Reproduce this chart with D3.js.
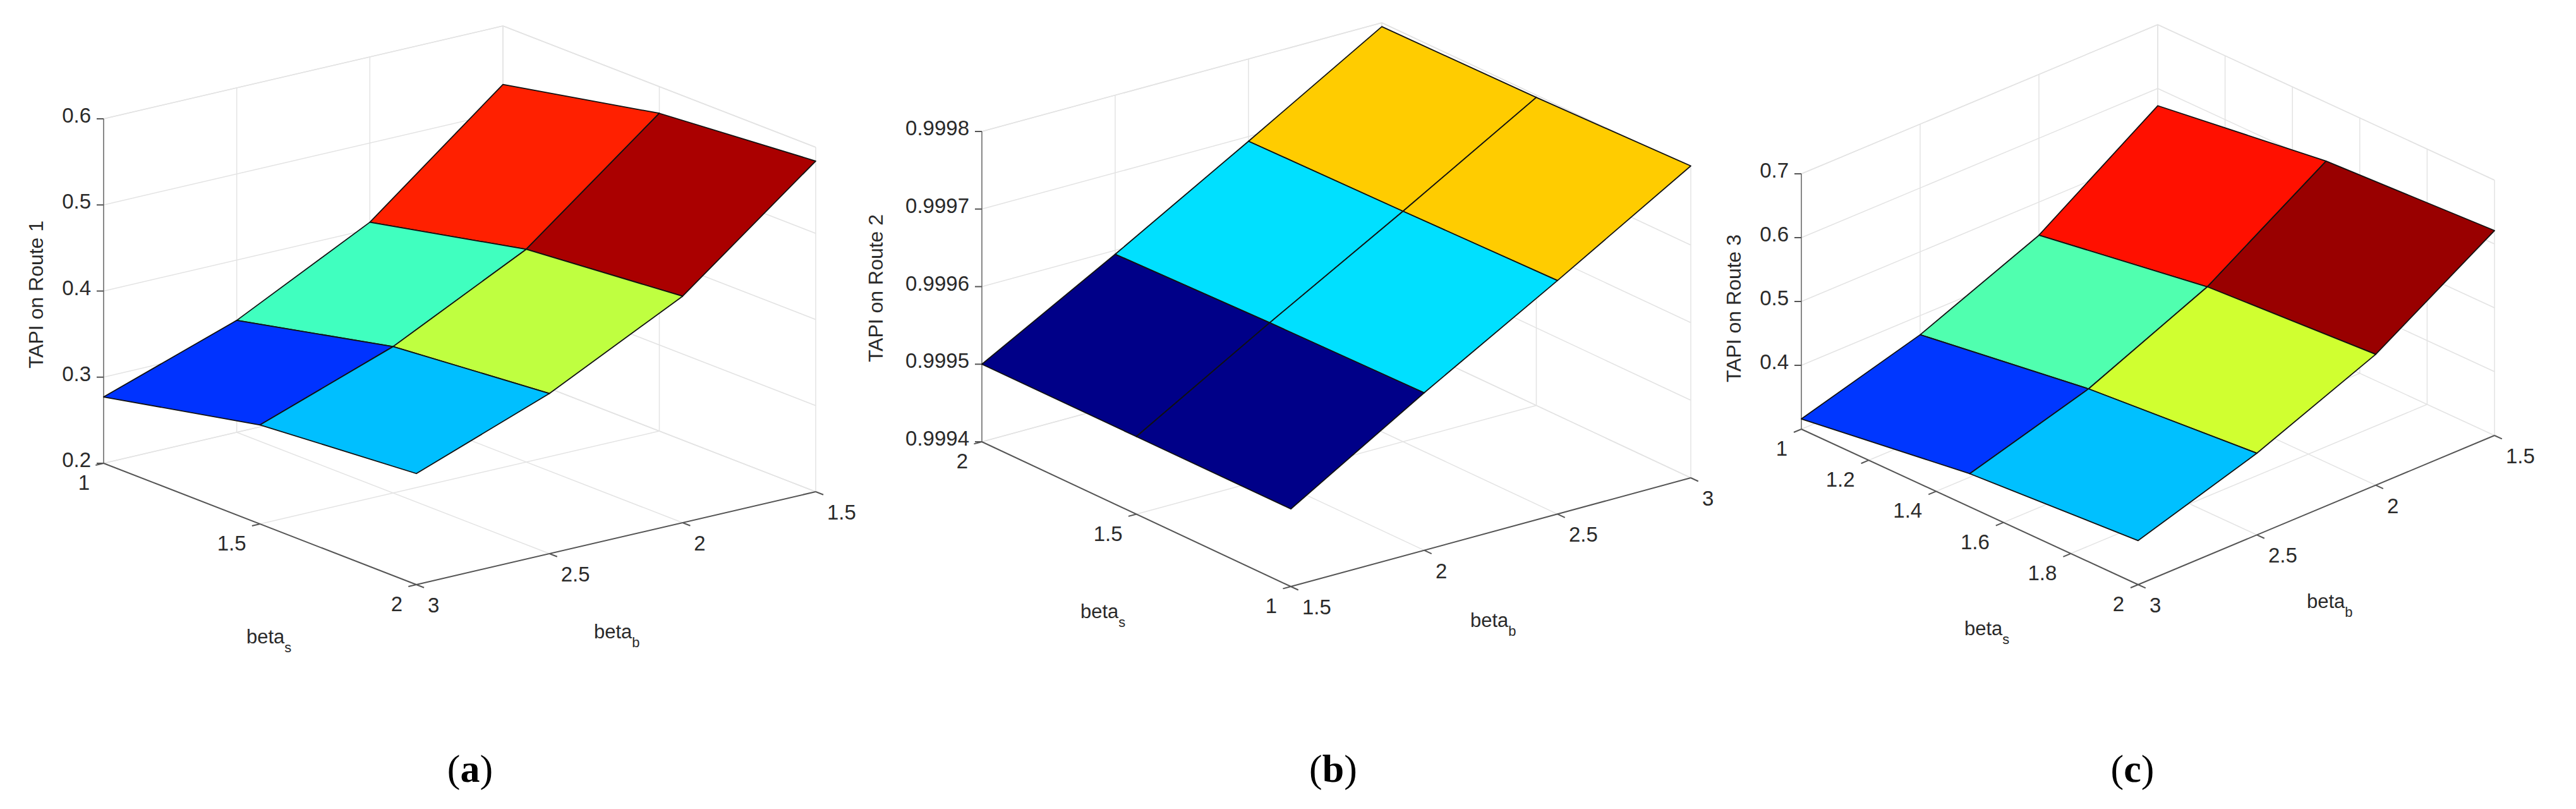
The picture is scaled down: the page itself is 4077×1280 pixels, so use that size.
<!DOCTYPE html>
<html><head><meta charset="utf-8">
<script src="https://cdn.jsdelivr.net/npm/d3@7"></script>
<style>body{margin:0;background:#fff}svg{display:block}</style>
</head><body>
<script>
// ---- data ----
const betaS_a = [1, 1.5, 2];
const betaB_a = [3, 2.5, 2, 1.5];
const tapi_a = [
  [0.277, 0.315, 0.329],
  [0.330, 0.370, 0.386],
  [0.408, 0.447, 0.463],
  [0.532, 0.569, 0.584]
];
const colors_a = [["#0033ff","#00bfff"],["#40ffbf","#bfff40"],["#ff2000","#aa0000"]];
const zTicks_a = [0.2, 0.3, 0.4, 0.5, 0.6];
const sTicks_a = [1, 1.5, 2];
const bTicks_a = [3, 2.5, 2, 1.5];

const betaS_b = [2, 1.5, 1];
const betaB_b = [1.5, 2, 2.5, 3];
const tapi_b = [
  [0.99950, 0.99950, 0.99950],
  [0.999595, 0.99960, 0.999603],
  [0.999694, 0.999697, 0.999701],
  [0.999795, 0.999797, 0.999802]
];
const colors_b = [["#000088","#000088"],["#00e0ff","#00e0ff"],["#ffcc00","#ffcc00"]];
const zTicks_b = [0.9994, 0.9995, 0.9996, 0.9997, 0.9998];
const sTicks_b = [2, 1.5, 1];
const bTicks_b = [1.5, 2, 2.5, 3];

const betaS_c = [1, 1.5, 2];
const betaB_c = [3, 2.5, 2, 1.5];
const tapi_c = [
  [0.316, 0.352, 0.369],
  [0.370, 0.407, 0.428],
  [0.448, 0.489, 0.505],
  [0.573, 0.608, 0.621]
];
const colors_c = [["#0037ff","#00c0ff"],["#50ffaf","#d0ff30"],["#ff1000","#990000"]];
const zTicks_c = [0.4, 0.5, 0.6, 0.7];
const sTicks_c = [1, 1.2, 1.4, 1.6, 1.8, 2];
const bTicks_c = [3, 2.5, 2, 1.5];

// ---- layout ----
const panels = [
  {s:betaS_a,b:betaB_a,z:tapi_a,col:colors_a,zt:zTicks_a,st:sTicks_a,bt:bTicks_a,zdom:[0.2,0.6],fmt:".1f",
   C0:[164,733],C1:[659,925],C2:[1291,778],H:545,zlab:"TAPI on Route 1",zl:[60,466],sl:[390,1018],bl:[940,1010],cap:"a",cx:744},
  {s:betaS_b,b:betaB_b,z:tapi_b,col:colors_b,zt:zTicks_b,st:sTicks_b,bt:bTicks_b,zdom:[0.9994,0.9998],fmt:".4f",
   C0:[1554,699],C1:[2043,928],C2:[2676,756],H:491,zlab:"TAPI on Route 2",zl:[1389,456],sl:[1710,978],bl:[2327,992],cap:"b",cx:2110},
  {s:betaS_c,b:betaB_c,z:tapi_c,col:colors_c,zt:zTicks_c,st:sTicks_c,bt:bTicks_c,zdom:[0.3,0.7],fmt:".1f",
   C0:[2851,679],C1:[3384,925],C2:[3948,689],H:404,zlab:"TAPI on Route 3",zl:[2747,488],sl:[3109,1005],bl:[3651,962],cap:"c",cx:3375}
];

const svg = d3.select("body").append("svg").attr("width",4077).attr("height",1280);
svg.append("rect").attr("width",4077).attr("height",1280).attr("fill","#fff");
const FONT = "Liberation Sans, Arial, sans-serif";

panels.forEach(p => {
  const g = svg.append("g");
  const s0 = p.s[0], s1 = p.s[p.s.length-1], b0 = p.b[0], b1 = p.b[p.b.length-1];
  const u = d3.scaleLinear().domain([s0,s1]).range([0,1]);
  const v = d3.scaleLinear().domain([b0,b1]).range([0,1]);
  const w = d3.scaleLinear().domain(p.zdom).range([0,p.H]);
  const du=[p.C1[0]-p.C0[0],p.C1[1]-p.C0[1]], dv=[p.C2[0]-p.C1[0],p.C2[1]-p.C1[1]];
  const P = (bs,bb,z) => [p.C0[0]+u(bs)*du[0]+v(bb)*dv[0], p.C0[1]+u(bs)*du[1]+v(bb)*dv[1]-w(z)];
  const line = (a,b,stroke,sw) => g.append("line").attr("x1",a[0]).attr("y1",a[1]).attr("x2",b[0]).attr("y2",b[1])
      .attr("stroke",stroke).attr("stroke-width",sw);
  const zmin=p.zdom[0], zmax=p.zdom[1];
  const grid="#e3e3e3";
  p.st.forEach(t=>line(P(t,b0,zmin),P(t,b1,zmin),grid,1.5));
  p.bt.forEach(t=>line(P(s0,t,zmin),P(s1,t,zmin),grid,1.5));
  p.zt.concat([zmax]).forEach(t=>line(P(s0,b0,t),P(s0,b1,t),grid,1.5));
  p.bt.forEach(t=>line(P(s0,t,zmin),P(s0,t,zmax),grid,1.5));
  p.zt.concat([zmax]).forEach(t=>line(P(s0,b1,t),P(s1,b1,t),grid,1.5));
  p.st.forEach(t=>line(P(t,b1,zmin),P(t,b1,zmax),grid,1.5));

  const axc="#555";
  line(P(s0,b0,zmin),P(s0,b0,zmax),"#888",2);
  line(P(s0,b0,zmin),P(s1,b0,zmin),axc,2);
  line(P(s1,b0,zmin),P(s1,b1,zmin),axc,2);
  const nv=Math.hypot(dv[0],dv[1]), nu=Math.hypot(du[0],du[1]);
  const txt = (x,y,t,anchor) => g.append("text").attr("x",x).attr("y",y).attr("text-anchor",anchor)
      .attr("font-family",FONT).attr("font-size",33).attr("fill","#2a2a2a").text(t);
  const zf=d3.format(p.fmt);
  p.zt.forEach(t=>{const a=P(s0,b0,t); line(a,[a[0]-11,a[1]],axc,2); txt(a[0]-20,a[1]+6,zf(t),"end");});
  p.st.forEach(t=>{const a=P(t,b0,zmin); line(a,[a[0]-dv[0]/nv*13,a[1]-dv[1]/nv*13],axc,2); txt(a[0]-22,a[1]+42,d3.format("")(t),"end");});
  p.bt.forEach(t=>{const a=P(s1,t,zmin); line(a,[a[0]+du[0]/nu*13,a[1]+du[1]/nu*13],axc,2); txt(a[0]+18,a[1]+44,d3.format("")(t),"start");});

  const cells=[];
  for(let j=0;j<p.b.length-1;j++) for(let i=0;i<p.s.length-1;i++){
    const pts=[P(p.s[i],p.b[j],p.z[j][i]),P(p.s[i+1],p.b[j],p.z[j][i+1]),P(p.s[i+1],p.b[j+1],p.z[j+1][i+1]),P(p.s[i],p.b[j+1],p.z[j+1][i])];
    const depth=(u(p.s[i])+u(p.s[i+1]))/2-(v(p.b[j])+v(p.b[j+1]))/2;
    cells.push({pts,depth,c:p.col[j][i]});
  }
  cells.sort((a,b)=>a.depth-b.depth);
  g.selectAll("path.cell").data(cells).enter().append("path")
    .attr("d",d=>"M"+d.pts.map(q=>q.join(",")).join("L")+"Z")
    .attr("fill",d=>d.c).attr("stroke","#111").attr("stroke-width",1.8).attr("stroke-linejoin","round");

  g.append("text").attr("transform",`translate(${p.zl[0]},${p.zl[1]}) rotate(-90)`).attr("text-anchor","middle")
    .attr("dominant-baseline","middle").attr("font-family",FONT).attr("font-size",32).attr("fill","#2a2a2a").text(p.zlab);
  const sub=(pos,letter)=>{const t=g.append("text").attr("x",pos[0]).attr("y",pos[1]).attr("font-family",FONT)
      .attr("font-size",31).attr("fill","#2a2a2a");
    t.append("tspan").text("beta"); t.append("tspan").attr("font-size",22).attr("dy",14).text(letter);};
  sub(p.sl,"s"); sub(p.bl,"b");
  const cap=svg.append("text").attr("x",p.cx).attr("y",1237).attr("text-anchor","middle")
    .attr("font-family","Liberation Serif, Times New Roman, serif").attr("font-size",62).attr("fill","#000");
  cap.append("tspan").text("(");
  cap.append("tspan").attr("font-weight","bold").text(p.cap);
  cap.append("tspan").text(")");
});
</script>
</body></html>
